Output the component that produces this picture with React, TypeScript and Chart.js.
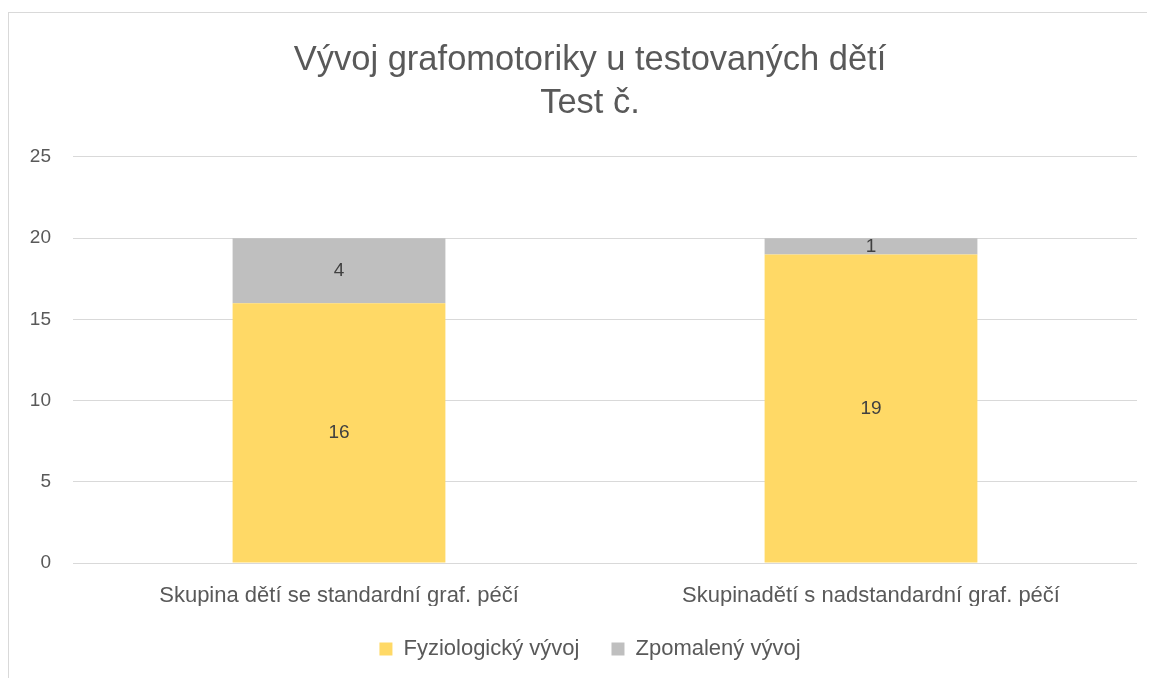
import React, { useEffect, useRef } from "react";
import { Chart, registerables } from "chart.js";

Chart.register(...registerables);

const titleLines = ["Vývoj grafomotoriky u testovaných dětí", "Test č."];
const categories = [
  "Skupina dětí se standardní graf. péčí",
  "Skupinadětí s nadstandardní graf. péčí",
];
const seriesNames = ["Fyziologický vývoj", "Zpomalený vývoj"];
const fyziologicky = [16, 19];
const zpomaleny = [4, 1];
const seriesColors = ["#FFD966", "#BFBFBF"];
const yMax = 25;
const yStep = 5;

const FONT = "'Liberation Sans', 'DejaVu Sans', sans-serif";

const dataLabelPlugin = {
  id: "dataLabels",
  afterDatasetsDraw(chart: any) {
    const ctx = chart.ctx;
    ctx.save();
    ctx.fillStyle = "#404040";
    ctx.font = `19px ${FONT}`;
    ctx.textAlign = "center";
    ctx.textBaseline = "middle";
    chart.data.datasets.forEach((ds: any, i: number) => {
      const meta = chart.getDatasetMeta(i);
      meta.data.forEach((bar: any, j: number) => {
        const v = ds.data[j];
        const y = (bar.y + bar.base) / 2;
        ctx.fillText(String(v), bar.x, y);
      });
    });
    ctx.restore();
  },
};

export default function App() {
  const ref = useRef<HTMLCanvasElement | null>(null);
  useEffect(() => {
    if (!ref.current) return;
    const chart = new Chart(ref.current, {
      type: "bar",
      data: {
        labels: categories,
        datasets: [
          {
            label: seriesNames[0],
            data: fyziologicky,
            backgroundColor: seriesColors[0],
            categoryPercentage: 1,
            barPercentage: 0.4,
          },
          {
            label: seriesNames[1],
            data: zpomaleny,
            backgroundColor: seriesColors[1],
            categoryPercentage: 1,
            barPercentage: 0.4,
          },
        ],
      },
      options: {
        animation: false,
        responsive: true,
        maintainAspectRatio: false,
        layout: { padding: { left: 16, right: 0, top: 0, bottom: 8 } },
        plugins: {
          title: {
            display: true,
            text: titleLines,
            color: "#595959",
            font: { family: FONT, size: 34.5, weight: "normal", lineHeight: 1.246 },
            padding: { top: 26, bottom: 32 },
          },
          legend: {
            position: "bottom",
            labels: {
              color: "#595959",
              font: { family: FONT, size: 22 },
              boxWidth: 13,
              boxHeight: 13,
              padding: 32,
            },
          },
          tooltip: { enabled: false },
        },
        scales: {
          x: {
            stacked: true,
            grid: { display: false, drawTicks: false },
            border: { display: false },
            ticks: {
              color: "#595959",
              font: { family: FONT, size: 22 },
              padding: 20,
              maxRotation: 0,
            },
            afterFit(scale: any) {
              scale.height = 43;
            },
          },
          y: {
            stacked: true,
            min: 0,
            max: yMax,
            grid: { color: "#D9D9D9", drawTicks: false, lineWidth: 1 },
            border: { display: false },
            ticks: {
              stepSize: yStep,
              color: "#595959",
              font: { family: FONT, size: 19 },
              padding: 22,
            },
            afterFit(scale: any) {
              scale.width = 48;
            },
          },
          yRight: {
            position: "right",
            min: 0,
            max: yMax,
            grid: { display: false, drawTicks: false },
            border: { display: false },
            ticks: { display: false },
            afterFit(scale: any) {
              scale.width = 18;
            },
          },
        },
      },
      plugins: [dataLabelPlugin],
    });
    return () => chart.destroy();
  }, []);
  return (
    <div
      style={{
        marginTop: 4,
        width: 1146,
        height: 665,
        borderTop: "1px solid #D9D9D9",
        borderLeft: "1px solid #D9D9D9",
        background: "#fff",
      }}
    >
      <div style={{ position: "relative", width: 1146, height: 665 }}>
        <canvas ref={ref} />
      </div>
    </div>
  );
}
